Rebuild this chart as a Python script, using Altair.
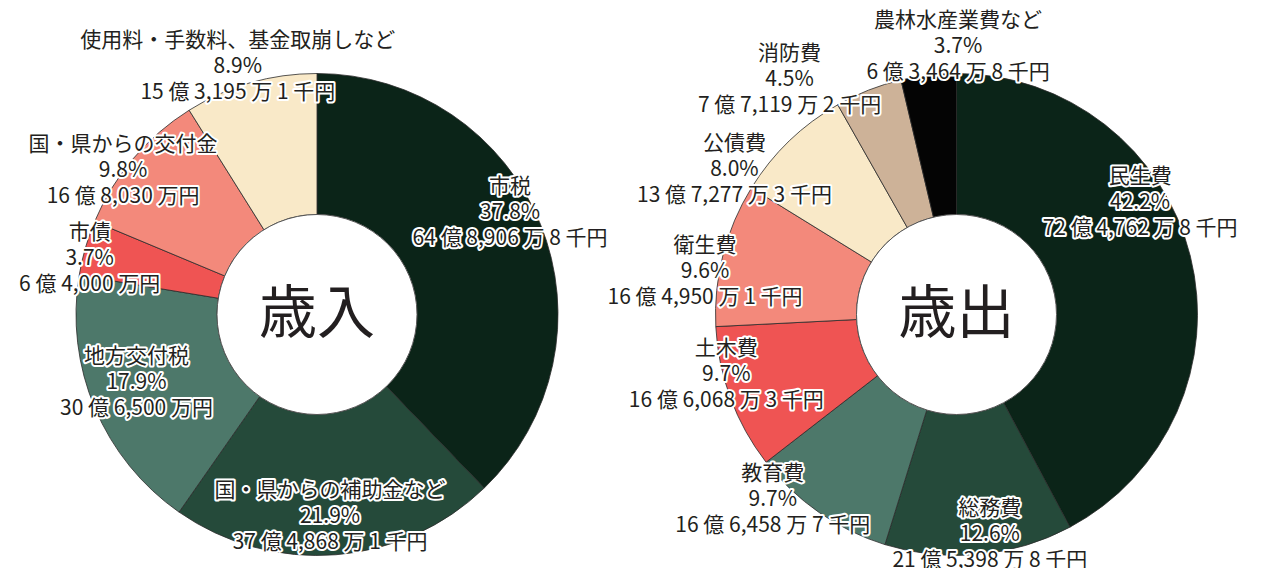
import math
import altair as alt
import pandas as pd

# ---------------- data ----------------
rev_cats = ["市税", "国・県からの補助金など", "地方交付税", "市債",
            "国・県からの交付金", "使用料・手数料、基金取崩しなど"]
rev_pct = [37.8, 21.9, 17.9, 3.7, 9.8, 8.9]
rev_amt = ["64 億 8,906 万 8 千円", "37 億 4,868 万 1 千円", "30 億 6,500 万円",
           "6 億 4,000 万円", "16 億 8,030 万円", "15 億 3,195 万 1 千円"]

exp_cats = ["民生費", "総務費", "教育費", "土木費", "衛生費", "公債費",
            "消防費", "農林水産業費など"]
exp_pct = [42.2, 12.6, 9.7, 9.7, 9.6, 8.0, 4.5, 3.7]
exp_amt = ["72 億 4,762 万 8 千円", "21 億 5,398 万 8 千円", "16 億 6,458 万 7 千円",
           "16 億 6,068 万 3 千円", "16 億 4,950 万 1 千円", "13 億 7,277 万 3 千円",
           "7 億 7,119 万 2 千円", "6 億 3,464 万 8 千円"]

# ---------------- styles / layout ----------------
rev_colors = ["#0b2418", "#254a3a", "#4d786a", "#ef5453", "#f3897b", "#f9e9c8"]
exp_colors = ["#0b2418", "#254a3a", "#4d786a", "#ef5453", "#f3897b", "#f9e9c8",
              "#cdb298", "#040404"]

# label placement: angle nudge (deg) from slice middle, and radius (px)
rev_nudge = [-5.7, 0.8, 2.1, -2.3, -3.9, -1.7]
rev_lr = [218, 203, 193, 234, 241, 260]
exp_nudge = [-17.3, -3.2, 10.0, 5.6, -4.8, -13.0, -14.0, 7.0]
exp_lr = [215, 223, 261, 238, 255, 265, 288, 268]

FONT = "Noto Sans CJK JP"
TXT = "#231f20"
FS = 21
LH = 26
INNER, OUTER = 100, 241
CY = 306.5
LEFT_CX, RIGHT_CX = 309, 948.5

color_scale = alt.Scale(domain=rev_cats + exp_cats, range=rev_colors + exp_colors)


def table(cats, pct, amt, nudge, lr):
    return pd.DataFrame({
        "idx": list(range(len(cats))),
        "cat": cats,
        "pct": pct,
        "label": [f"{c}\n{p:.1f}%\n{a}" for c, p, a in zip(cats, pct, amt)],
        "nudge": nudge,
        "lr": lr,
    })


def donut(df, cx, cy, title):
    base = alt.Chart(df)
    arcs = base.mark_arc(innerRadius=INNER, outerRadius=OUTER,
                         stroke="#2b2b2b", strokeWidth=0.8).encode(
        theta=alt.Theta("pct:Q", stack=True),
        order=alt.Order("idx:Q"),
        color=alt.Color("cat:N", scale=color_scale, legend=None),
        x=alt.value(cx), y=alt.value(cy),
    )
    hole = alt.Chart(pd.DataFrame({"t": [title]})).mark_arc(
        innerRadius=0, outerRadius=INNER, theta=0, theta2=2 * math.pi,
        fill="white", stroke="#555555", strokeWidth=1,
    ).encode(x=alt.value(cx), y=alt.value(cy))
    center = alt.Chart(pd.DataFrame({"t": [title]})).mark_text(
        font=FONT, fontSize=58, color=TXT, align="center", baseline="middle",
    ).encode(x=alt.value(cx), y=alt.value(cy + 1), text="t:N")

    lab = base.transform_joinaggregate(total="sum(pct)").transform_window(
        cum="sum(pct)", sort=[alt.SortField("idx")]
    ).transform_calculate(
        ang="(datum.cum - datum.pct/2)/datum.total*2*PI + datum.nudge*PI/180"
    ).transform_calculate(
        lx=f"{cx} + datum.lr*sin(datum.ang)",
        ly=f"{cy} - datum.lr*cos(datum.ang)",
    )
    enc = dict(x=alt.X("lx:Q", scale=None), y=alt.Y("ly:Q", scale=None),
               text=alt.Text("label:N"))
    common = dict(font=FONT, fontSize=FS, lineHeight=LH, lineBreak="\n",
                  align="center", baseline="middle", dy=-LH)
    halo = lab.mark_text(fill="white", stroke="white", strokeWidth=4,
                         strokeJoin="round", **common).encode(**enc)
    txt = lab.mark_text(fill=TXT, **common).encode(**enc)
    return [arcs, hole, center, halo, txt]


rev = table(rev_cats, rev_pct, rev_amt, rev_nudge, rev_lr)
exp = table(exp_cats, exp_pct, exp_amt, exp_nudge, exp_lr)

chart = alt.layer(
    *donut(rev, LEFT_CX, CY, "歳入"),
    *donut(exp, RIGHT_CX, CY, "歳出"),
).properties(
    width=1255, height=560, padding=0,
    autosize=alt.AutoSizeParams(type="none"),
).configure_view(stroke=None)

chart.save("out.html", embed_options={"renderer": "svg", "actions": False})
